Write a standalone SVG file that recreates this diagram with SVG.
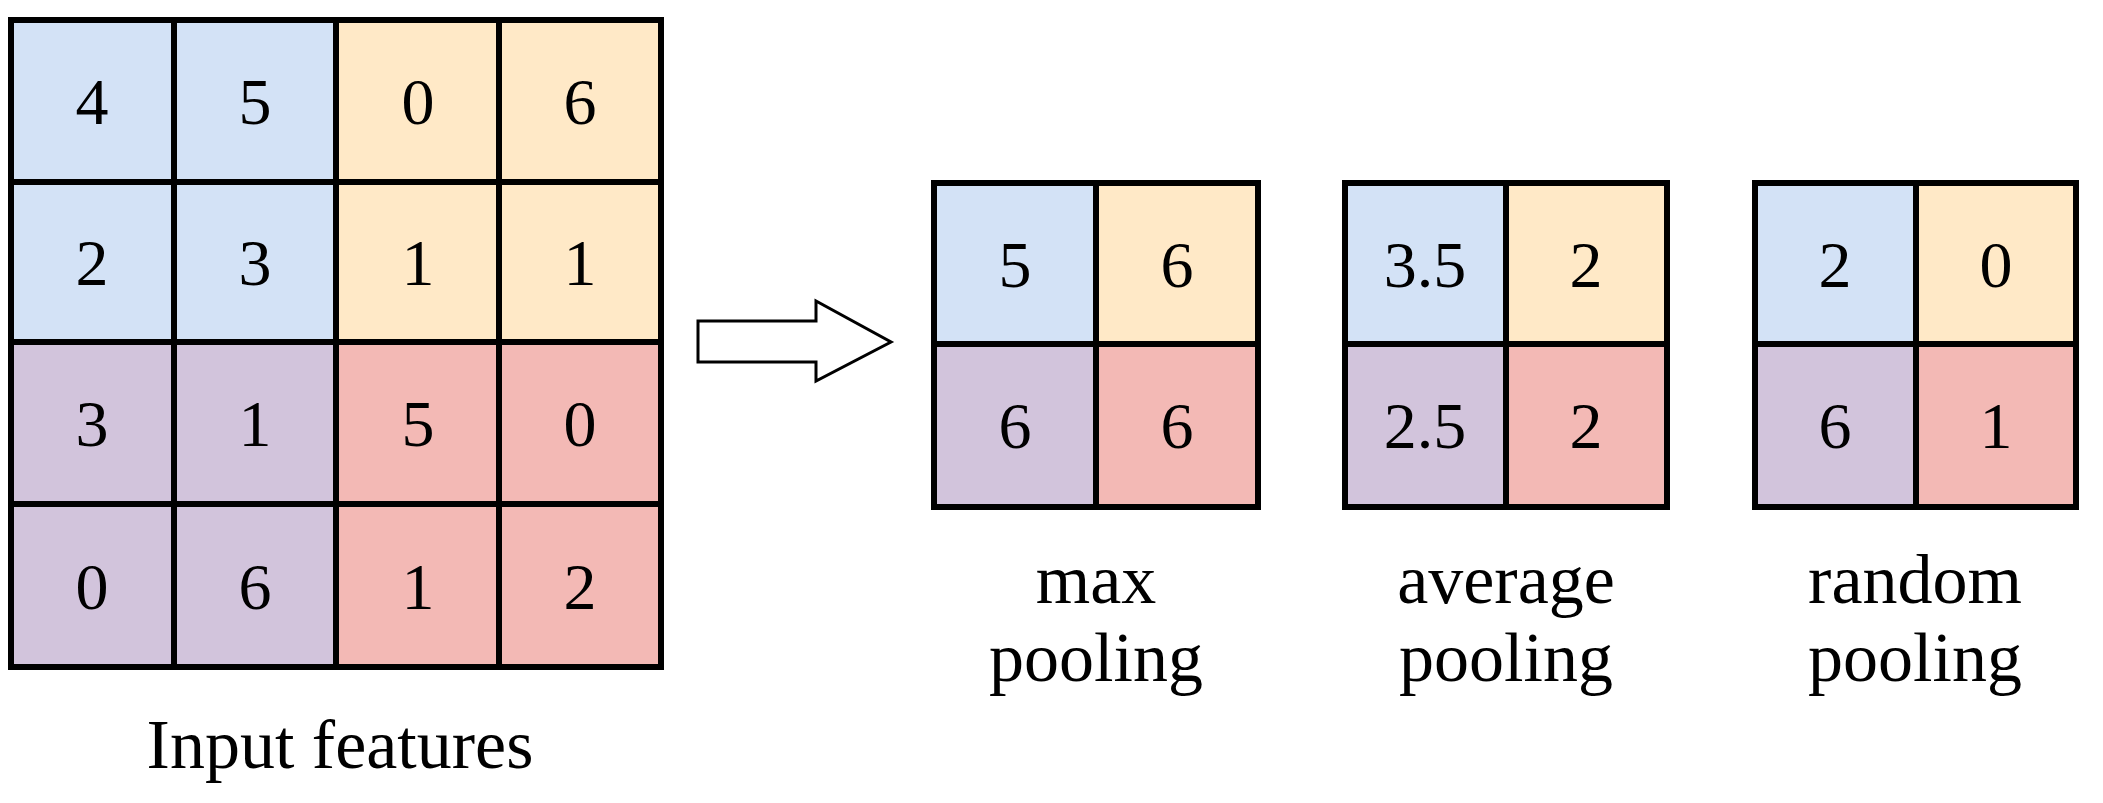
<svg xmlns="http://www.w3.org/2000/svg" width="2103" height="803" viewBox="0 0 2103 803">
<style>
.b{fill:#D3E2F6}.y{fill:#FFE9C7}.p{fill:#D2C4DC}.r{fill:#F3B9B5}
.g{fill:none;stroke:#000;stroke-width:6}
text{font-family:"Liberation Serif","DejaVu Serif",serif;fill:#000;text-anchor:middle}
.n{font-size:66px}.l{font-size:70px}
</style>
<rect width="2103" height="803" fill="#fff"/>
<g id="input">
<rect class="b" x="11" y="20" width="325" height="322"/>
<rect class="y" x="336" y="20" width="325" height="322"/>
<rect class="p" x="11" y="342" width="325" height="325"/>
<rect class="r" x="336" y="342" width="325" height="325"/>
<path class="g" d="M11 20H661V667H11Z M174 20V667 M336 20V667 M499 20V667 M11 182H661 M11 342H661 M11 504H661"/>
<g class="n">
<text x="92" y="124">4</text><text x="255" y="124">5</text><text x="418" y="124">0</text><text x="580" y="124">6</text>
<text x="92" y="285">2</text><text x="255" y="285">3</text><text x="418" y="285">1</text><text x="580" y="285">1</text>
<text x="92" y="446">3</text><text x="255" y="446">1</text><text x="418" y="446">5</text><text x="580" y="446">0</text>
<text x="92" y="609">0</text><text x="255" y="609">6</text><text x="418" y="609">1</text><text x="580" y="609">2</text>
</g>
<text class="l" x="340" y="768">Input features</text>
</g>
<g id="connectors">
<path d="M698 321H816V301L891 342L816 381V362H698Z" fill="#fff" stroke="#000" stroke-width="3"/>
</g>
<g id="max">
<rect class="b" x="934" y="183" width="162" height="161"/><rect class="y" x="1096" y="183" width="162" height="161"/>
<rect class="p" x="934" y="344" width="162" height="163"/><rect class="r" x="1096" y="344" width="162" height="163"/>
<path class="g" d="M934 183H1258V507H934Z M1096 183V507 M934 344H1258"/>
<g class="n"><text x="1015" y="287">5</text><text x="1177" y="287">6</text><text x="1015" y="448">6</text><text x="1177" y="448">6</text></g>
<text class="l" x="1096" y="603">max</text><text class="l" x="1096" y="681">pooling</text>
</g>
<g id="average">
<rect class="b" x="1345" y="183" width="161" height="161"/><rect class="y" x="1506" y="183" width="161" height="161"/>
<rect class="p" x="1345" y="344" width="161" height="163"/><rect class="r" x="1506" y="344" width="161" height="163"/>
<path class="g" d="M1345 183H1667V507H1345Z M1506 183V507 M1345 344H1667"/>
<g class="n"><text x="1425" y="287">3.5</text><text x="1586" y="287">2</text><text x="1425" y="448">2.5</text><text x="1586" y="448">2</text></g>
<text class="l" x="1506" y="603">average</text><text class="l" x="1506" y="681">pooling</text>
</g>
<g id="random">
<rect class="b" x="1755" y="183" width="161" height="161"/><rect class="y" x="1916" y="183" width="160" height="161"/>
<rect class="p" x="1755" y="344" width="161" height="163"/><rect class="r" x="1916" y="344" width="160" height="163"/>
<path class="g" d="M1755 183H2076V507H1755Z M1916 183V507 M1755 344H2076"/>
<g class="n"><text x="1835" y="287">2</text><text x="1996" y="287">0</text><text x="1835" y="448">6</text><text x="1996" y="448">1</text></g>
<text class="l" x="1915" y="603">random</text><text class="l" x="1915" y="681">pooling</text>
</g>
</svg>
